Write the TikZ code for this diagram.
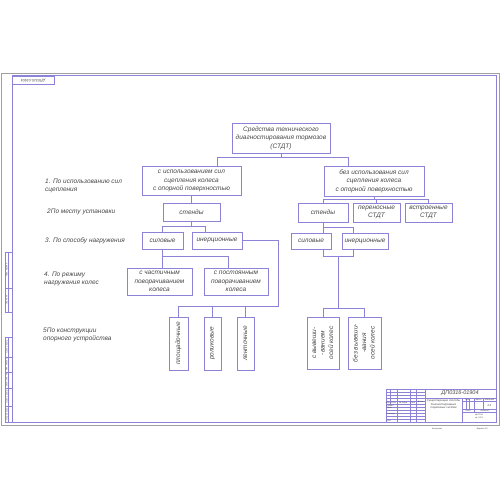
\documentclass[tikz,border=0pt]{standalone}
\usepackage{fontspec}
\setmainfont{Liberation Sans}
\usetikzlibrary{calc}
\definecolor{ln}{RGB}{140,130,215}
\definecolor{tx}{RGB}{70,70,70}
\definecolor{sheet}{RGB}{160,160,160}
\begin{document}
\begin{tikzpicture}[x=1pt,y=-1pt,
  box/.style={draw=ln, line width=0.6pt, inner sep=0pt, align=center,
    font=\fontsize{6.5}{8.5}\selectfont\itshape, text=tx},
  lab/.style={anchor=west, align=left, inner sep=0pt,
    font=\fontsize{6.5}{8.5}\selectfont\itshape, text=tx},
  con/.style={draw=ln, line width=0.6pt},
  frm/.style={draw=ln, line width=0.6pt},
  thin/.style={draw=ln, line width=0.35pt},
  tiny/.style={inner sep=0pt, text=tx, font=\fontsize{2}{2.4}\selectfont\itshape}]
\useasboundingbox (0,0) rectangle (500,500);
% sheet and frame
\draw[sheet, line width=0.8pt] (1,73) rectangle (499,425);
\draw[frm] (12,75.7) rectangle (496,422);
% top-left stamp
\draw[thin] (12,75.7) rectangle (54,84);
\node[rotate=180, inner sep=0pt, text=tx, font=\fontsize{3.6}{4}\selectfont\itshape] (stamp) at (33,80) {ДП0316-01904};
% left strip
\draw[thin] (5,252) rectangle (12,312);
\draw[thin] (8.5,252) -- (8.5,312);
\draw[thin] (5,288) -- (12,288);
\draw[thin] (5,337) rectangle (12,422);
\draw[thin] (8.5,337) -- (8.5,422);
\foreach \yy in {357,372,388,406} \draw[thin] (5,\yy) -- (12,\yy);
\node[tiny, rotate=90] (s1) at (6.8,270) {Перв. примен.};
\node[tiny, rotate=90] (s2) at (6.8,300) {Справ. №};
\node[tiny, rotate=90] (s3) at (6.8,347) {Подп. и дата};
\node[tiny, rotate=90] (s4) at (6.8,364.5) {Инв. № дубл.};
\node[tiny, rotate=90] (s5) at (6.8,380) {Взам. инв. №};
\node[tiny, rotate=90] (s6) at (6.8,397) {Подп. и дата};
\node[tiny, rotate=90] (s7) at (6.8,414) {Инв. № подл.};
% title block
\draw[frm] (386,389) -- (496,389);
\draw[frm] (386,389) -- (386,422);
\draw[frm] (425,389) -- (425,422);
\draw[frm] (425,398) -- (496,398);
\foreach \yy in {392,395,398,401,404,407,410,413,416,419} \draw[thin] (386,\yy) -- (425,\yy);
\foreach \xx in {390,397,410,416} \draw[thin] (\xx,389) -- (\xx,404);
\draw[thin] (397,404) -- (397,422);
\draw[thin] (410,404) -- (410,422);
\draw[thin] (416,404) -- (416,422);
\draw[frm] (462,398) -- (462,422);
\draw[thin] (462,401) -- (496,401);
\draw[thin] (462,409) -- (496,409);
\draw[thin] (462,412) -- (496,412);
\foreach \xx in {466,469,474,483} \draw[thin] (\xx,398) -- (\xx,409);
\draw[thin] (474,409) -- (474,412);
\node[inner sep=0pt, text=tx, font=\fontsize{5.5}{6}\selectfont\itshape] (oboz) at (460,393.6) {ДП0316-01904};
\node[inner sep=0pt, align=center, text=tx, font=\fontsize{2.8}{3.4}\selectfont\itshape] (naim) at (443.5,404.5) {Существующие способы\\диагностирования\\тормозных систем};
\node[tiny] (t1) at (388,402.5) {Изм.};
\node[tiny] (t2) at (393.5,402.5) {Лист};
\node[tiny] (t3) at (403.5,402.5) {№ докум.};
\node[tiny] (t4) at (413,402.5) {Подп.};
\node[tiny] (t5) at (420.5,402.5) {Дата};
\node[tiny, anchor=west] (t6) at (386.5,405.5) {Разраб.};
\node[tiny, anchor=west] (t7) at (386.5,408.5) {Пров.};
\node[tiny, anchor=west] (t8) at (386.5,414.5) {Н.контр.};
\node[tiny, anchor=west] (t9) at (386.5,420.5) {Утв.};
\node[tiny] (t10) at (467.5,399.5) {Лит.};
\node[tiny] (t11) at (478.5,399.5) {Масса};
\node[tiny] (t12) at (489.5,399.5) {Масштаб};
\node[inner sep=0pt, text=tx, font=\fontsize{3}{3.5}\selectfont\itshape] (t13) at (489.5,405) {1:1};
\node[tiny] (t14) at (468,410.5) {Лист};
\node[tiny] (t15) at (485,410.5) {Листов 1};
\node[tiny, align=center] (t16) at (479,416.5) {ИжГСХА\\гр. 1021};
\node[tiny] (t17) at (437,429) {Копировал};
\node[tiny] (t18) at (482,429) {Формат А3};
% left labels
\node[lab] (l1) at (45,186) {1. По использованию сил\\сцепления};
\node[lab] (l2) at (47,212) {2По месту установки};
\node[lab] (l3) at (45,241) {3. По способу нагружения};
\node[lab] (l4) at (44,279) {4. По режиму\\нагружения колес};
\node[lab] (l5) at (43,335) {5По конструкции\\опорного устройства};
% boxes
\node[box, minimum width=98pt, minimum height=30pt] (top) at (281,138) {Средства технического\\диагностирования тормозов\\(СТДТ)};
\node[box, minimum width=99pt, minimum height=29pt] (L1) at (191.5,181) {с использованием сил\\сцепления колеса\\с опорной поверхностью};
\node[box, minimum width=100pt, minimum height=30pt] (R1) at (374,181) {без использования сил\\сцепления колеса\\с опорной поверхностью};
\node[box, minimum width=57pt, minimum height=18pt] (Lstend) at (191.5,212) {стенды};
\node[box, minimum width=41pt, minimum height=17pt] (Lsil) at (162.5,240.5) {силовые};
\node[box, minimum width=50pt, minimum height=17pt] (Liner) at (217,240.5) {инерционные};
\node[box, minimum width=65pt, minimum height=27pt] (Lpart) at (159.5,281.5) {с частичным\\поворачиванием\\колеса};
\node[box, minimum width=64pt, minimum height=27pt] (Lconst) at (236,281.5) {с постоянным\\поворачиванием\\колеса};
\node[box, minimum width=19pt, minimum height=53pt] (v1) at (178.5,343.5) {\rotatebox{90}{площадочные}};
\node[box, minimum width=17pt, minimum height=53pt] (v2) at (212.5,343.5) {\rotatebox{90}{роликовые}};
\node[box, minimum width=17pt, minimum height=53pt] (v3) at (245.5,343.5) {\rotatebox{90}{ленточные}};
\node[box, minimum width=50pt, minimum height=19pt] (Rstend) at (323,212.5) {стенды};
\node[box, minimum width=47pt, minimum height=19pt] (Rpern) at (376.5,212.5) {переносные\\СТДТ};
\node[box, minimum width=47pt, minimum height=19pt] (Rvstr) at (428.5,212.5) {встроенные\\СТДТ};
\node[box, minimum width=40pt, minimum height=16pt] (Rsil) at (311,241) {силовые};
\node[box, minimum width=46pt, minimum height=16pt] (Riner) at (365,241) {инерционные};
\node[box, minimum width=32pt, minimum height=52pt] (rv1) at (323,343) {\rotatebox{90}{\begin{tabular}{@{}c@{}}с вывеши-\\-ванием\\осей колес\end{tabular}}};
\node[box, minimum width=33pt, minimum height=52pt] (rv2) at (364.5,343) {\rotatebox{90}{\begin{tabular}{@{}c@{}}без вывеши-\\-вания\\осей колес\end{tabular}}};
% connectors
\draw[con] (top.south) -- ++(0,4) coordinate (j1);
\draw[con] ([xshift=25.5pt]L1.north) |- (j1) -| ([xshift=-26pt]R1.north);
\draw[con] (L1) -- (Lstend);
\draw[con] (Lstend.south) -- ++(0,5) coordinate (j2);
\draw[con] (Lsil.north) |- (j2) -| ([xshift=-12pt]Liner.north);
\draw[con] (Lsil.south) -- ++(0,7) coordinate (j3) -| ([xshift=-8pt]Lconst.north);
\draw[con] (j3) -- (j3 |- Lpart.north);
\draw[con] (Liner.east) -- ++(36,0) -- ++(0,65.5) coordinate (j5) -| (v1.north);
\draw[con] (v2.north) -- (v2.north |- j5);
\draw[con] (v3.north) -- (v3.north |- j5);
\draw[con] (R1.south) -- ++(0,2.5) coordinate (j6);
\draw[con] (Rstend.north) |- (j6) -| (Rvstr.north);
\draw[con] (Rpern.north) -- (Rpern.north |- j6);
\draw[con] (Rstend.south) -- (Rstend.south |- Rsil.north);
\draw[con] (Rstend.south) ++(0,5) coordinate (j7) -| ([xshift=-12pt]Riner.north);
\draw[con] ([xshift=12pt]Rsil.south) -- ++(0,7) coordinate (j8) -| ([xshift=-12pt]Riner.south);
\draw[con] ([xshift=15pt]j8) -- ++(0,52) coordinate (j10);
\draw[con] (rv1.north) |- (j10) -| (rv2.north);
\end{tikzpicture}
\end{document}
